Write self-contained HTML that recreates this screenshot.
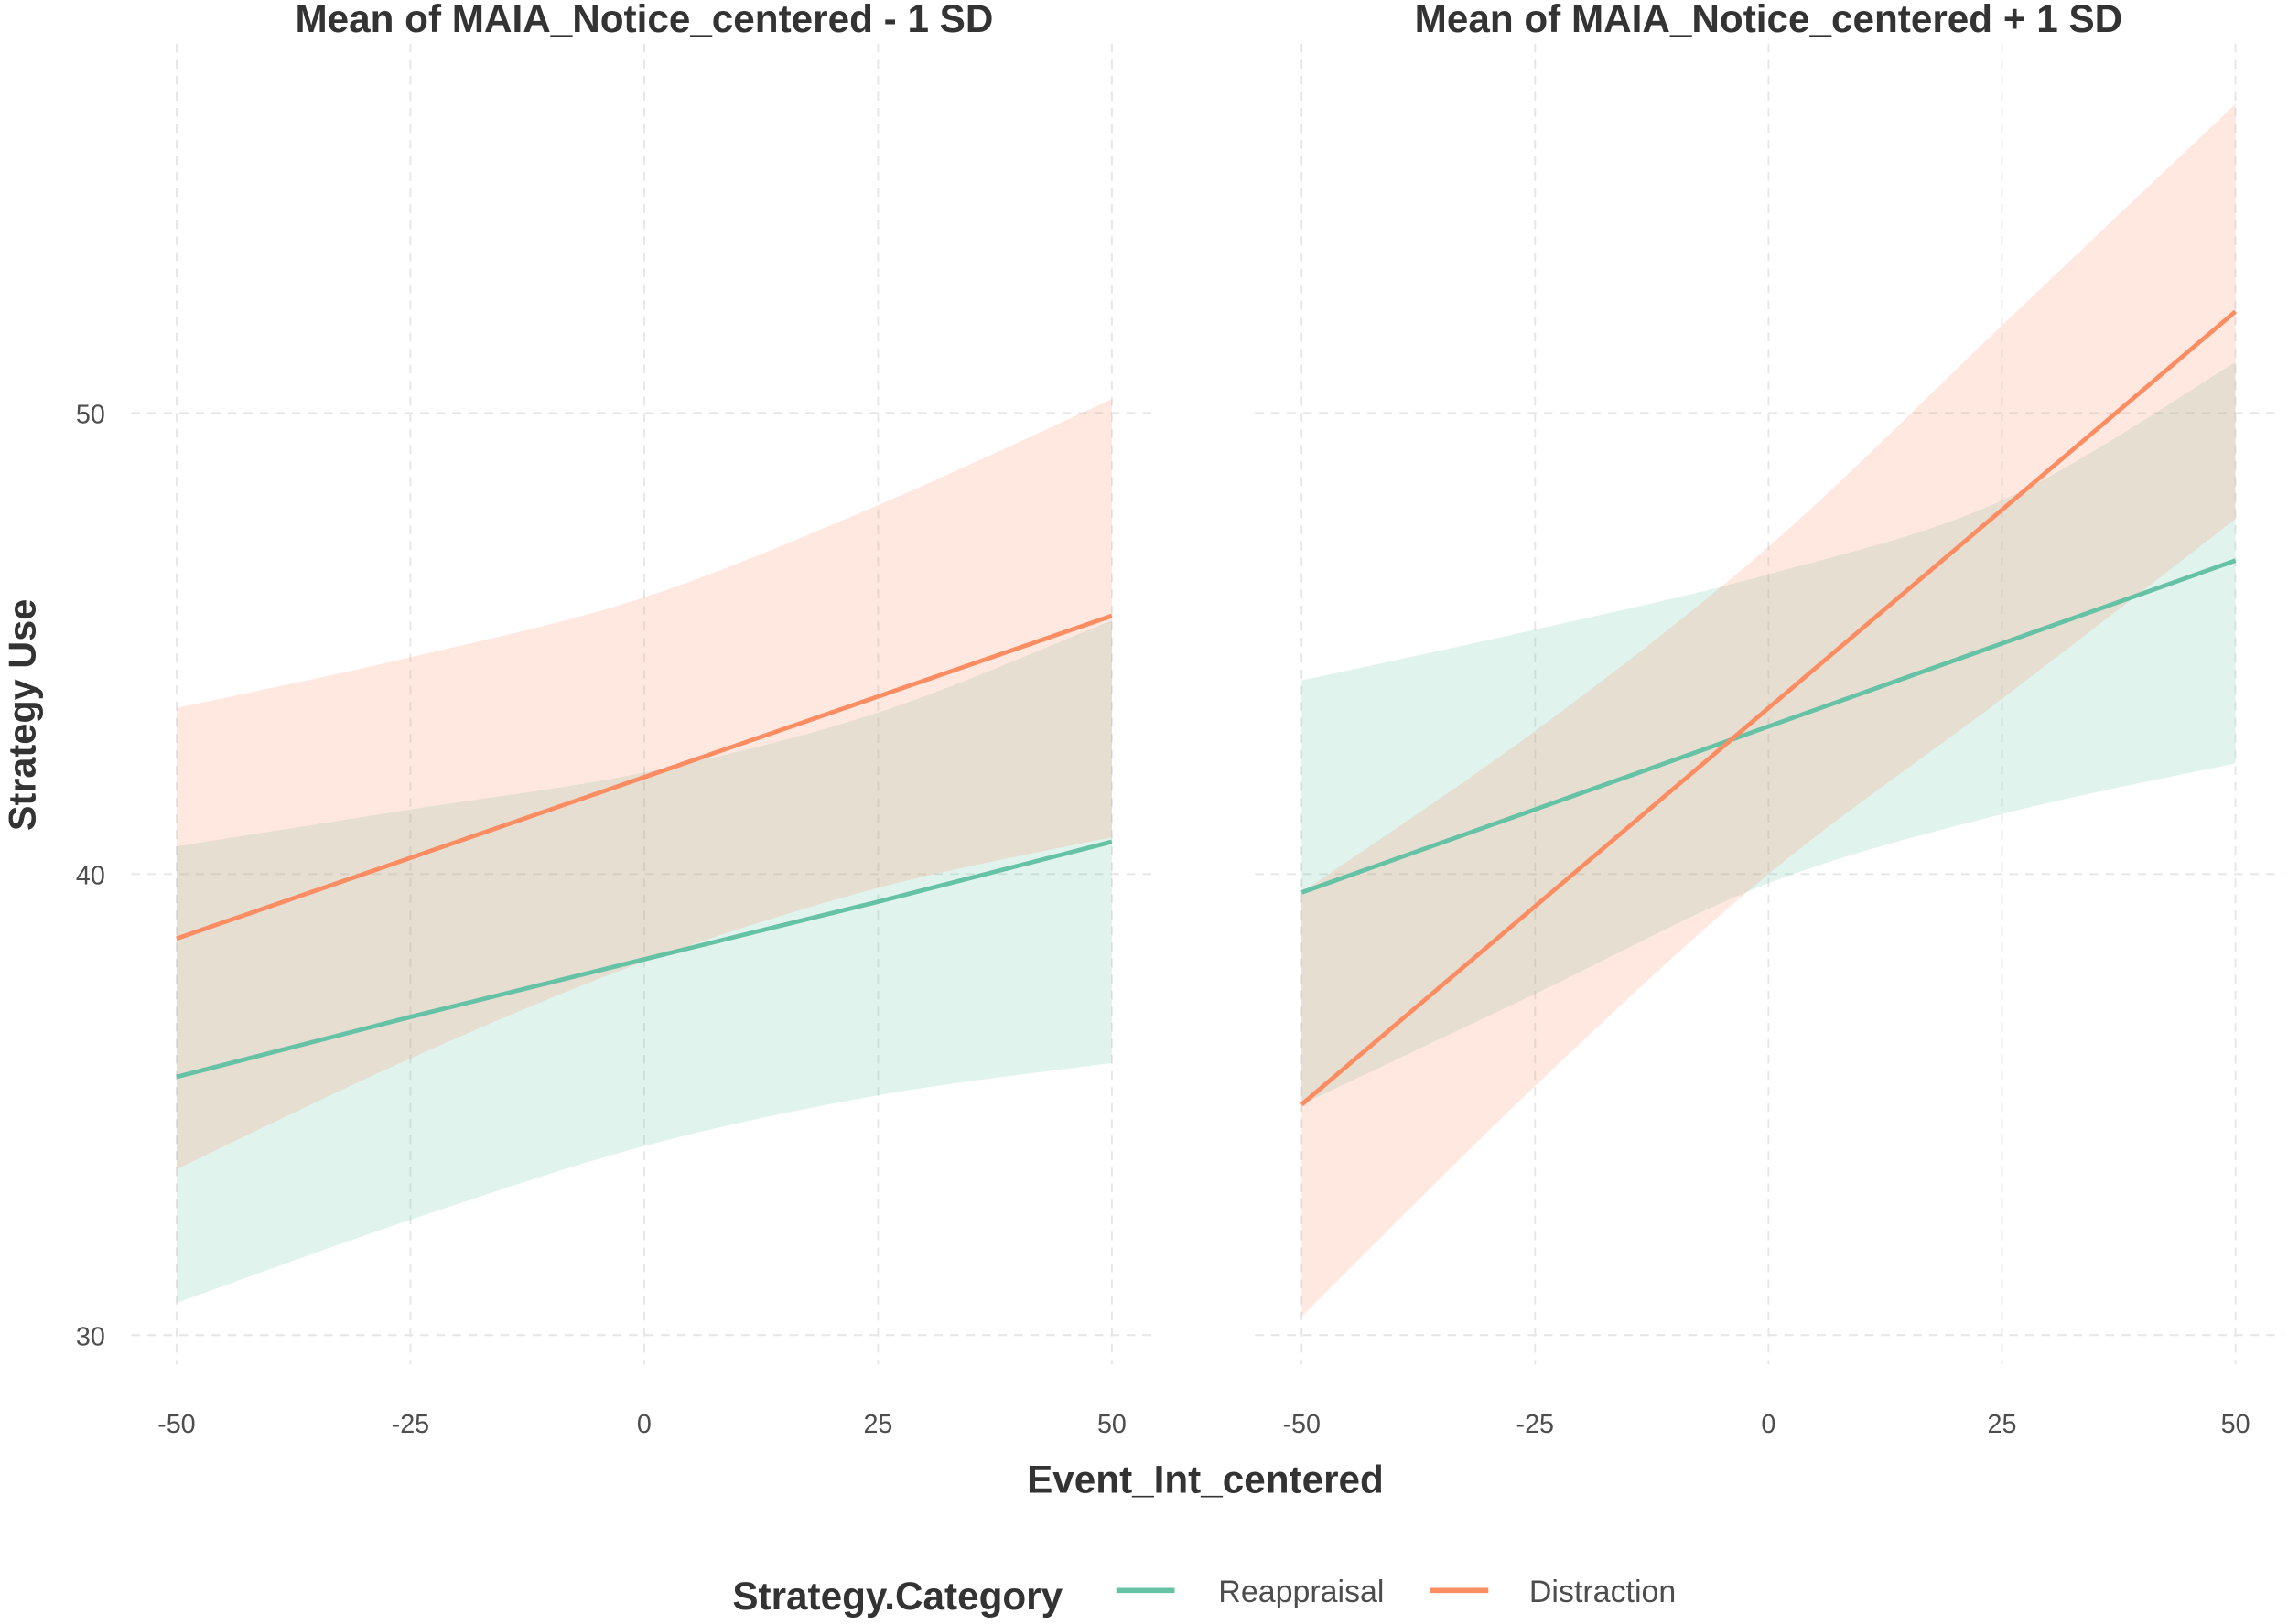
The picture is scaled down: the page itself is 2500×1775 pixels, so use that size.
<!DOCTYPE html>
<html><head><meta charset="utf-8"><style>
html,body{margin:0;padding:0;background:#fff;}
svg{display:block;font-family:"Liberation Sans",Arial,sans-serif;}
</style></head><body>
<svg id="chart" width="2500" height="1775" viewBox="0 0 1568 1113" preserveAspectRatio="none" xmlns="http://www.w3.org/2000/svg">
<g id="root"></g>
</svg>
<script>
const xTicks = [-50, -25, 0, 25, 50];
const yTicks = [30, 40, 50];
const panelTitles = ["Mean of MAIA_Notice_centered - 1 SD", "Mean of MAIA_Notice_centered + 1 SD"];
const seriesNames = ["Reappraisal", "Distraction"];
const xs = [-50, -25, 0, 25, 50];
// panel 1 (-1 SD)
const p1ReapFit = [35.6, 36.9, 38.15, 39.4, 40.7];
const p1ReapLo  = [30.7, 32.5, 34.1, 35.2, 35.9];
const p1ReapHi  = [40.6, 41.4, 42.2, 43.5, 45.5];
const p1DistFit = [38.6, 40.35, 42.1, 43.85, 45.6];
const p1DistLo  = [33.6, 36.0, 38.1, 39.7, 40.8];
const p1DistHi  = [43.6, 44.7, 46.0, 48.0, 50.3];
// panel 2 (+1 SD)
const p2ReapFit = [39.6, 41.4, 43.2, 45.0, 46.8];
const p2ReapLo  = [35.0, 37.4, 39.8, 41.3, 42.4];
const p2ReapHi  = [44.2, 45.3, 46.5, 48.1, 51.1];
const p2DistFit = [35.0, 39.3, 43.6, 47.9, 52.2];
const p2DistLo  = [30.4, 35.4, 40.0, 43.8, 47.7];
const p2DistHi  = [39.6, 43.1, 47.1, 51.9, 56.7];

const NS = "http://www.w3.org/2000/svg";
const root = document.getElementById('root');
const colors = ["#66c2a5", "#fc8d62"];
const panels = [
  {x0: 121, x1: 762, left: 90, right: 793, data: [[p1ReapLo,p1ReapHi,p1ReapFit],[p1DistLo,p1DistHi,p1DistFit]]},
  {x0: 892, x1: 1532, left: 860, right: 1565, data: [[p2ReapLo,p2ReapHi,p2ReapFit],[p2DistLo,p2DistHi,p2DistFit]]}
];
function yScale(v){ return 915 - (v - 30) * 31.6; }
function mk(tag, attrs, parent){ const e = document.createElementNS(NS, tag); for (const k in attrs) e.setAttribute(k, attrs[k]); (parent||root).appendChild(e); return e; }
function smooth(pts, move){
  let d = (move ? 'M' : 'L') + pts[0][0] + ',' + pts[0][1];
  for (let i = 0; i < pts.length - 1; i++) {
    const p0 = pts[Math.max(0, i - 1)], p1 = pts[i], p2 = pts[i + 1], p3 = pts[Math.min(pts.length - 1, i + 2)];
    const c1 = [p1[0] + (p2[0] - p0[0]) / 6, p1[1] + (p2[1] - p0[1]) / 6];
    const c2 = [p2[0] - (p3[0] - p1[0]) / 6, p2[1] - (p3[1] - p1[1]) / 6];
    d += ' C' + c1[0] + ',' + c1[1] + ' ' + c2[0] + ',' + c2[1] + ' ' + p2[0] + ',' + p2[1];
  }
  return d;
}

panels.forEach((p, pi) => {
  const xScale = v => p.x0 + (v + 50) / 100 * (p.x1 - p.x0);
  const g = mk('g', {});
  
  
  xTicks.forEach(t => {
    const l = mk('line', {x1: xScale(t), x2: xScale(t), y1: 30, y2: 935, stroke: '#e6e6e6', 'stroke-width': 1.2, 'stroke-dasharray': '6,5'}, g);
    
    
    const tx = mk('text', {x: xScale(t), y: 982, 'text-anchor': 'middle', 'font-size': 18, fill: '#4d4d4d'}, g);
    tx.textContent = t;
    
    
  });
  yTicks.forEach(t => {
    const l = mk('line', {x1: p.left, x2: p.right, y1: yScale(t), y2: yScale(t), stroke: '#e6e6e6', 'stroke-width': 1.2, 'stroke-dasharray': '6,5'}, g);
    
    
  });
  p.data.forEach((d, si) => {
    const [lo, hi] = d;
    const top = xs.map((x, i) => [xScale(x), yScale(hi[i])]);
    const bot = xs.map((x, i) => [xScale(x), yScale(lo[i])]).reverse();
    const path = smooth(top, true) + ' ' + smooth(bot, false) + ' Z';
    const r = mk('path', {d: path, fill: colors[si], 'fill-opacity': 0.2}, g);
    
    
  });
  p.data.forEach((d, si) => {
    const fit = d[2];
    const l = mk('polyline', {points: xs.map((x, i) => xScale(x) + ',' + yScale(fit[i])).join(' '), fill: 'none', stroke: colors[si], 'stroke-width': 3}, g);
    
    
  });
  const tt = mk('text', {x: (p.x0 + p.x1) / 2, y: 22, 'text-anchor': 'middle', 'font-size': 26.5, 'font-weight': 'bold', fill: '#333'}, g);
  tt.textContent = panelTitles[pi];
  
  
});
yTicks.forEach(t => {
  const tx = mk('text', {x: 72, y: yScale(t) + 7, 'text-anchor': 'end', 'font-size': 18, fill: '#4d4d4d'});
  tx.textContent = t;
  
  
});
const yt = mk('text', {x: 0, y: 0, transform: 'translate(24,490) rotate(-90)', 'text-anchor': 'middle', 'font-size': 26, 'font-weight': 'bold', fill: '#333'});
yt.textContent = 'Strategy Use';


const xt = mk('text', {x: 826, y: 1023, 'text-anchor': 'middle', 'font-size': 26.5, 'font-weight': 'bold', fill: '#333'});
xt.textContent = 'Event_Int_centered';


const lg = mk('g', {});


const lt = mk('text', {x: 502, y: 1103, 'font-size': 26.5, 'font-weight': 'bold', fill: '#333'}, lg);
lt.textContent = 'Strategy.Category';


const keyX = [765, 980], labX = [835, 1048];
seriesNames.forEach((n, i) => {
  const k = mk('line', {x1: keyX[i], x2: keyX[i] + 40, y1: 1090, y2: 1090, stroke: colors[i], 'stroke-width': 3.5}, lg);
  
  
  const t = mk('text', {x: labX[i], y: 1098, 'font-size': 21.3, fill: '#4d4d4d'}, lg);
  t.textContent = n;
  
  
});
</script>
</body></html>
